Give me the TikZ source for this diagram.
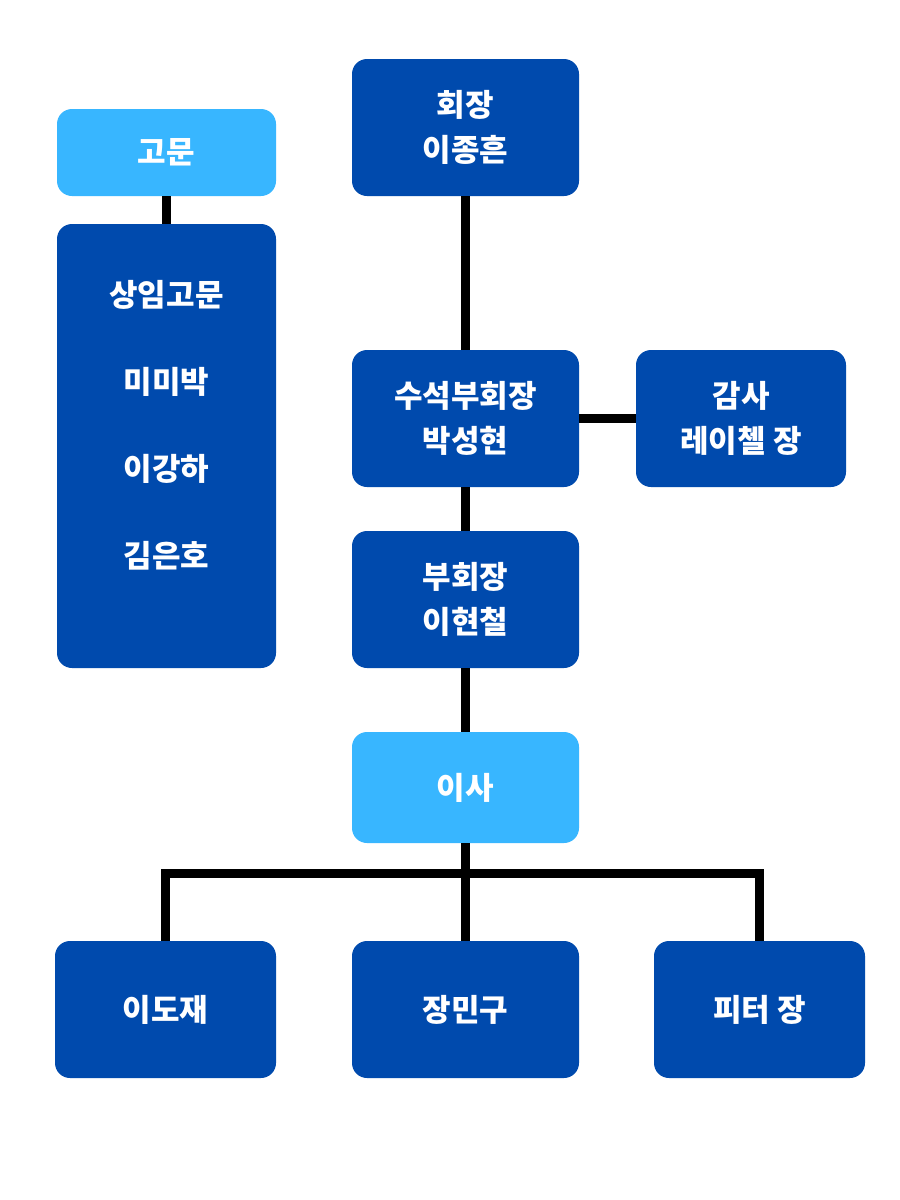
\documentclass[tikz,border=0pt]{standalone}
\usepackage{fontspec}
\newfontfamily\kr{Noto Sans CJK KR}
\definecolor{dblue}{HTML}{004AAD}
\definecolor{lblue}{HTML}{38B6FF}
\begin{document}
\begin{tikzpicture}[x=1pt,y=-1pt,
  box/.style={draw=none,rounded corners=15pt,inner sep=0pt,text=white,align=center,
    font=\kr\bfseries\fontsize{31}{45}\selectfont},
  darkbox/.style={box,fill=dblue},
  lightbox/.style={box,fill=lblue},
  link/.style={line width=9pt,black}]
\useasboundingbox[fill=white] (0,0) rectangle (900,1200);
\node[lightbox,minimum width=219pt,minimum height=87pt] (gm) at (166.5,152.5) {고문};
\node[darkbox,minimum width=219pt,minimum height=444pt] (sg) at (166.5,446) {};
\node[text=white,align=center,font=\kr\bfseries\fontsize{31}{87}\selectfont] (sgt) at (166.5,425) {상임고문\\미미박\\이강하\\김은호};
\node[darkbox,minimum width=227pt,minimum height=137pt] (hj) at (465.5,127.5) {회장\\이종흔};
\node[darkbox,minimum width=227pt,minimum height=137pt] (ssb) at (465.5,418.5) {수석부회장\\박성현};
\node[darkbox,minimum width=210pt,minimum height=137pt] (gs) at (741,418.5) {감사\\레이첼 장};
\node[darkbox,minimum width=227pt,minimum height=137pt] (bhj) at (465.5,599.5) {부회장\\이현철};
\node[lightbox,minimum width=227pt,minimum height=111pt] (isa) at (465.5,787.5) {이사};
\node[darkbox,minimum width=221pt,minimum height=137pt] (ldj) at (165.5,1009.5) {이도재};
\node[darkbox,minimum width=227pt,minimum height=137pt] (jmg) at (465.5,1009.5) {장민구};
\node[darkbox,minimum width=211pt,minimum height=137pt] (pt) at (759.5,1009.5) {피터 장};
\coordinate (bar) at (465.5,873);
\draw[link] (gm.south) -- (sg.north);
\draw[link] (hj.south) -- (ssb.north);
\draw[link] (ssb.east) -- (gs.west);
\draw[link] (ssb.south) -- (bhj.north);
\draw[link] (bhj.south) -- (isa.north);
\draw[link] (isa.south) -- (jmg.north);
\draw[link,line join=miter] (ldj.north) |- (bar) -| (pt.north);
\end{tikzpicture}
\end{document}
